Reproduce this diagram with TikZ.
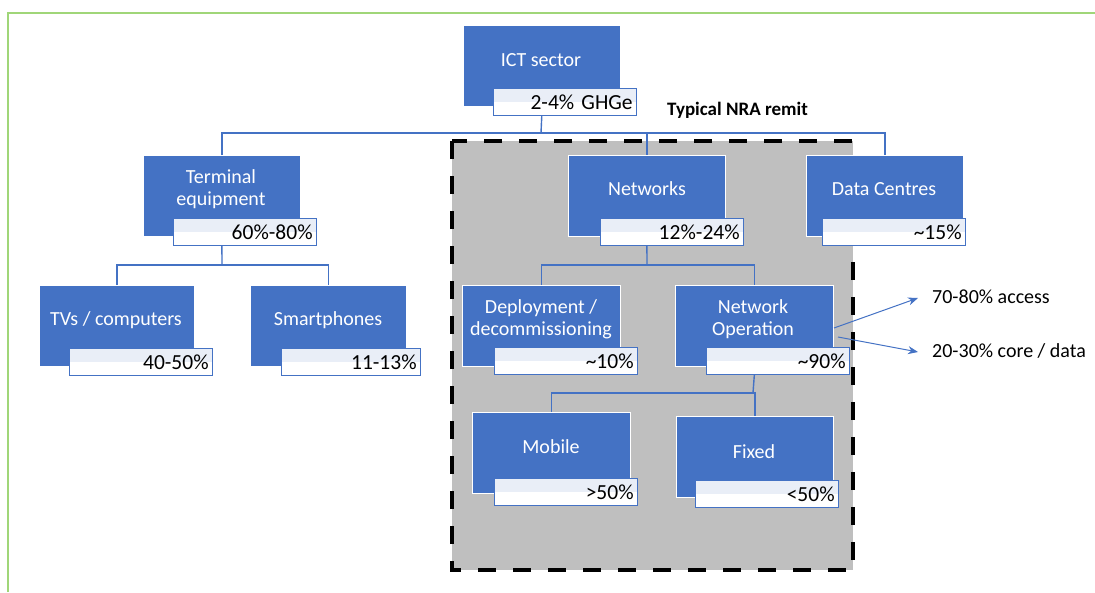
\documentclass[tikz,border=0pt]{standalone}
\usepackage{fontspec}
\setmainfont{Carlito}
\usetikzlibrary{arrows.meta}
\definecolor{frameGreen}{RGB}{160,214,120}
\definecolor{boxBlue}{RGB}{68,114,196}
\definecolor{labTint}{RGB}{233,238,247}
\definecolor{remitGrey}{RGB}{191,191,191}
\tikzset{
  bluebox/.style={draw=white, line width=0.8pt, fill=boxBlue, anchor=north west, minimum width=157pt, minimum height=81pt, inner sep=0pt},
  boxtext/.style={text=white, align=center, font=\fontsize{20}{22}\selectfont, inner sep=0pt},
  labbox/.style={draw=boxBlue, line width=1.3pt, fill=white, anchor=north west, minimum width=143pt, minimum height=27pt,
    text width=135pt, align=right, inner xsep=4pt, inner ysep=0pt, font=\fontsize{21.5}{24}\selectfont,
    path picture={\fill[labTint] (path picture bounding box.north west) rectangle (path picture bounding box.east);}},
  conn/.style={draw=boxBlue, line width=1.4pt},
  sidearrow/.style={draw=boxBlue, line width=1pt, -{Stealth[length=10pt,width=8pt]}},
  sidetext/.style={anchor=west, font=\fontsize{20}{24}\selectfont, inner sep=0pt}
}
\begin{document}
\begin{tikzpicture}[x=1pt,y=-1pt]
\useasboundingbox (0,0) rectangle (1095,592);
% green frame
\draw[frameGreen, line width=1.6pt] (8,592) -- (8,13) -- (1095,13);
% remit region
\fill[remitGrey] (452,141) rectangle (853,570);
\draw[black, line width=4pt, dash pattern=on 18pt off 17pt] (452,141) rectangle (853,570);
\node[font=\bfseries\fontsize{19}{22}\selectfont, anchor=west, inner sep=0pt] (remit) at (667,110) {Typical NRA remit};

% blue boxes
\node[bluebox] (ict) at (463,25) {};
\node[bluebox] (term) at (143,155) {};
\node[bluebox] (net) at (568,155) {};
\node[bluebox] (dc) at (806,155) {};
\node[bluebox, minimum width=155pt] (tv) at (39,285) {};
\node[bluebox, minimum width=156pt] (sp) at (250,285) {};
\node[bluebox, minimum width=158pt] (dep) at (462,285) {};
\node[bluebox, minimum width=158pt] (nop) at (675,285) {};
\node[bluebox, minimum width=158pt] (mob) at (472,412) {};
\node[bluebox, minimum width=157pt] (fix) at (676,416) {};

% connectors
\coordinate (bus1) at (541,133);
\coordinate (bus2) at (222,265);
\coordinate (bus3) at (647,265);
\coordinate (bus4) at (753,393);
\draw[conn] (ict.center |- 0,113) -- (bus1);
\draw[conn] (term.north) |- (bus1) -| (dc.north);
\draw[conn] (bus1) -| (net.north);
\draw[conn] (term.center |- 0,245) -- (bus2);
\draw[conn] (tv.north) |- (bus2) -| (sp.north);
\draw[conn] (net.center |- 0,245) -- (bus3);
\draw[conn] (dep.north) |- (bus3) -| (nop.north);
\draw[conn] (nop.center |- 0,374) -- (bus4);
\draw[conn] (mob.north) |- (bus4) -| (fix.north);

% box texts
\node[boxtext] (ictT) at (541,60) {ICT sector};
\node[boxtext] (termT) at (221,189) {Terminal\\equipment};
\node[boxtext] (netT) at (647,189) {Networks};
\node[boxtext] (dcT) at (884,189) {Data Centres};
\node[boxtext] (tvT) at (116,320) {TVs / computers};
\node[boxtext] (spT) at (328,320) {Smartphones};
\node[boxtext] (depT) at (541,319) {Deployment /\\decommissioning};
\node[boxtext] (nopT) at (753,319) {Network\\Operation};
\node[boxtext] (mobT) at (551,447) {Mobile};
\node[boxtext] (fixT) at (754,452) {Fixed};

% label boxes
\node[labbox] (ictL) at (493,88) {2-4\% GHGe};
\node[labbox] (termL) at (173,218) {60\%-80\%};
\node[labbox] (netL) at (600,218) {12\%-24\%};
\node[labbox] (dcL) at (822,218) {\textasciitilde15\%};
\node[labbox] (tvL) at (69,348) {40-50\%};
\node[labbox, minimum width=139pt, text width=131pt] (spL) at (281,348) {11-13\%};
\node[labbox] (depL) at (494,347) {\textasciitilde10\%};
\node[labbox] (nopL) at (706,347) {\textasciitilde90\%};
\node[labbox] (mobL) at (494,478) {>50\%};
\node[labbox] (fixL) at (695,480) {<50\%};

% side arrows
\node[sidetext] (acc) at (932,297) {70-80\% access};
\node[sidetext] (core) at (932,351) {20-30\% core / data};
\coordinate (a1) at (834,328);
\coordinate (a2) at (838,337);
\coordinate (e1) at (918,298);
\coordinate (e2) at (918,352);
\draw[sidearrow] (a1) -- (e1);
\draw[sidearrow] (a2) -- (e2);
\end{tikzpicture}
\end{document}
